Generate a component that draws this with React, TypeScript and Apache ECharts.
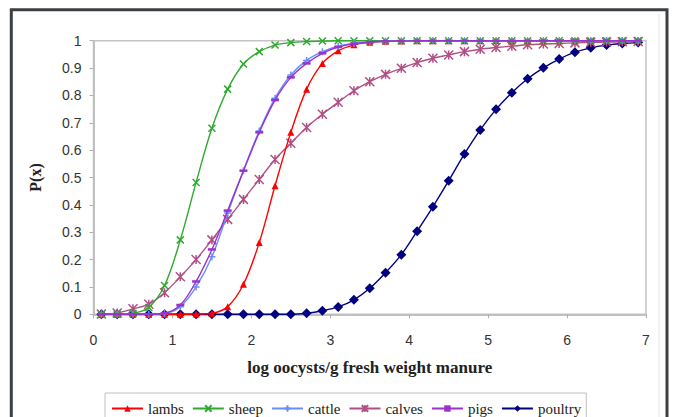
import React, { useEffect, useRef } from "react";
import * as echarts from "echarts";

const xValues = [0.1, 0.3, 0.5, 0.7, 0.9, 1.1, 1.3, 1.5, 1.7, 1.9, 2.1, 2.3, 2.5, 2.7, 2.9, 3.1, 3.3, 3.5, 3.7, 3.9, 4.1, 4.3, 4.5, 4.7, 4.9, 5.1, 5.3, 5.5, 5.7, 5.9, 6.1, 6.3, 6.5, 6.7, 6.9];

const lambs = [0, 0, 0, 0, 0, 0, 0.001, 0.004, 0.028, 0.11, 0.262, 0.47, 0.665, 0.823, 0.917, 0.963, 0.985, 0.994, 0.998, 0.999, 1, 1, 1, 1, 1, 1, 1, 1, 1, 1, 1, 1, 1, 1, 1];
const sheep = [0, 0, 0.004, 0.025, 0.105, 0.272, 0.482, 0.68, 0.823, 0.915, 0.96, 0.984, 0.993, 0.997, 0.999, 1, 1, 1, 1, 1, 1, 1, 1, 1, 1, 1, 1, 1, 1, 1, 1, 1, 1, 1, 1];
const cattle = [0, 0, 0, 0, 0.003, 0.028, 0.1, 0.21, 0.37, 0.525, 0.67, 0.79, 0.875, 0.928, 0.96, 0.98, 0.99, 0.995, 0.998, 0.999, 1, 1, 1, 1, 1, 1, 1, 1, 1, 1, 1, 1, 1, 1, 1];
const calves = [0.001, 0.005, 0.02, 0.037, 0.079, 0.137, 0.2, 0.272, 0.347, 0.42, 0.493, 0.566, 0.625, 0.683, 0.731, 0.775, 0.817, 0.85, 0.877, 0.899, 0.92, 0.936, 0.948, 0.96, 0.969, 0.975, 0.98, 0.985, 0.988, 0.99, 0.992, 0.994, 0.995, 0.996, 0.997];
const pigs = [0, 0, 0, 0, 0.004, 0.034, 0.12, 0.237, 0.379, 0.525, 0.665, 0.783, 0.866, 0.917, 0.954, 0.977, 0.989, 0.995, 0.998, 0.999, 1, 1, 1, 1, 1, 1, 1, 1, 1, 1, 1, 1, 1, 1, 1];
const poultry = [0, 0, 0, 0, 0, 0, 0, 0, 0, 0, 0, 0, 0, 0.004, 0.013, 0.027, 0.053, 0.095, 0.152, 0.218, 0.304, 0.393, 0.488, 0.586, 0.674, 0.749, 0.81, 0.861, 0.901, 0.933, 0.958, 0.974, 0.984, 0.99, 0.993];

const xTicks = [0, 1, 2, 3, 4, 5, 6, 7];

const SERIF = "Liberation Serif";
const SANS = "Liberation Sans";

function pairs(ys: number[]) {
  return xValues.map((x, i) => [x, ys[i]]);
}

export default function App() {
  const ref = useRef<HTMLDivElement>(null);
  useEffect(() => {
    document.body.style.margin = "0";
    const chart = echarts.init(ref.current!, undefined, { renderer: "svg" });
    const mk = (
      name: string,
      ys: number[],
      color: string,
      symbol: string,
      size: any,
      stroke: boolean,
      z: number
    ) => ({
      name,
      type: "line",
      data: pairs(ys),
      smooth: 0.35,
      symbol,
      symbolSize: size,
      showAllSymbol: true,
      z,
      lineStyle: { color, width: 1.4 },
      itemStyle: stroke
        ? { color: "rgba(0,0,0,0)", borderColor: color, borderWidth: 1.5 }
        : { color, borderColor: color, borderWidth: 0 },
      emphasis: { disabled: true },
    });
    chart.setOption({
      animation: false,
      backgroundColor: "#ffffff",
      grid: {
        left: 93.5,
        top: 40.7,
        width: 552.5,
        height: 273.6,
        show: true,
        borderColor: "#c4c4c4",
        borderWidth: 1.5,
        backgroundColor: "#ffffff",
      },
      xAxis: {
        type: "value",
        min: 0,
        max: 7,
        interval: 1,
        name: "log oocysts/g fresh weight manure",
        nameLocation: "middle",
        nameGap: 45,
        nameTextStyle: { fontFamily: SERIF, fontWeight: "bold", fontSize: 17, color: "#222" },
        axisLine: { lineStyle: { color: "#c0c0c0", width: 2 } },
        axisTick: { show: true, inside: false, length: 4, lineStyle: { color: "#b0b0b0" } },
        axisLabel: {
          margin: 19,
          fontFamily: SANS,
          fontSize: 14,
          color: "#333",
          formatter: (v: number) => (xTicks.includes(v) ? String(v) : ""),
        },
        splitLine: { show: false },
      },
      yAxis: {
        type: "value",
        min: 0,
        max: 1,
        interval: 0.1,
        name: "P(x)",
        nameLocation: "middle",
        nameGap: 50,
        nameRotate: 90,
        nameTextStyle: { fontFamily: SERIF, fontWeight: "bold", fontSize: 16, color: "#222" },
        axisLine: { show: true, lineStyle: { color: "#c0c0c0", width: 2 } },
        axisTick: { show: true, inside: false, length: 4, lineStyle: { color: "#b0b0b0" } },
        axisLabel: {
          margin: 12,
          fontFamily: SANS,
          fontSize: 14,
          color: "#333",
          formatter: (v: number) => String(Math.round(v * 10) / 10),
        },
        splitLine: { show: false },
      },
      legend: {
        left: 105,
        top: 393,
        padding: [8, 5, 12, 6],
        itemGap: 8,
        itemWidth: 31,
        itemHeight: 8,
        borderColor: "#c0c0c0",
        borderWidth: 1,
        backgroundColor: "#ffffff",
        textStyle: { fontFamily: SERIF, fontSize: 15, color: "#222" },
        data: ["lambs", "sheep", "cattle", "calves", "pigs", "poultry"],
      },
      graphic: [
        {
          type: "line",
          shape: { x1: 659, y1: 14, x2: 659, y2: 417 },
          style: { stroke: "#e2e2e2", lineWidth: 1 },
          silent: true,
        },
        {
          type: "rect",
          shape: { x: 11.3, y: 9.7, width: 655.7, height: 430 },
          style: { fill: "none", stroke: "#3c4043", lineWidth: 3 },
          silent: true,
          z: 100,
        },
      ],
      series: [
        mk("poultry", poultry, "#000080", "diamond", 10, false, 2),
        mk("calves", calves, "#b04f86", "path://M0,0L10,10M10,0L0,10M5,0L5,10", 9, true, 3),
        mk("lambs", lambs, "#ff0000", "triangle", 7, false, 4),
        mk("sheep", sheep, "#2eaa2e", "path://M0,0L10,10M10,0L0,10", 7, true, 5),
        mk("cattle", cattle, "#6a8cff", "path://M5,0L5,10M0,5L10,5", 7, true, 6),
        mk("pigs", pigs, "#9933cc", "rect", [8, 2.5], false, 7),
      ],
    });
    return () => chart.dispose();
  }, []);
  return <div ref={ref} style={{ width: 673, height: 417 }} />;
}
